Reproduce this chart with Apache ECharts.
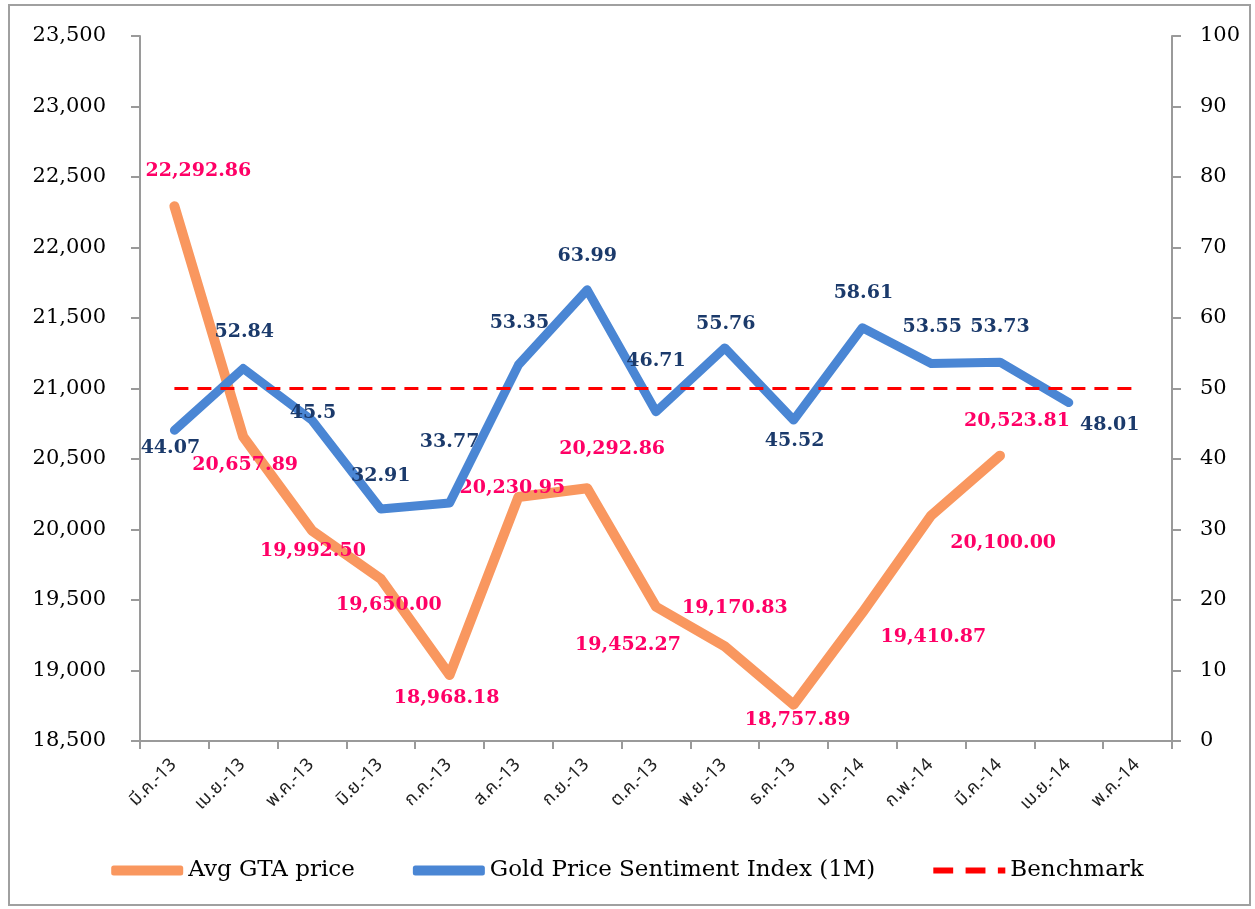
<!DOCTYPE html>
<html>
<head>
<meta charset="utf-8">
<script src="https://cdn.jsdelivr.net/npm/echarts@6/dist/echarts.min.js"></script>
<style>
  html, body { margin: 0; padding: 0; background: #fff; }
  #frame {
    position: absolute; left: 8px; top: 4px; width: 1243px; height: 902px;
    border: 2px solid #a0a0a0; box-sizing: border-box;
  }
  #chart { position: absolute; left: 0; top: 0; width: 1255px; height: 909px; }
</style>
</head>
<body>
<div id="frame"></div>
<div id="chart"></div>
<script>
  const months = ['มี.ค.-13', 'เม.ย.-13', 'พ.ค.-13', 'มิ.ย.-13', 'ก.ค.-13', 'ส.ค.-13', 'ก.ย.-13', 'ต.ค.-13',
    'พ.ย.-13', 'ธ.ค.-13', 'ม.ค.-14', 'ก.พ.-14', 'มี.ค.-14', 'เม.ย.-14', 'พ.ค.-14']
  const gtaPrice = [22292.86, 20657.89, 19992.50, 19650.00, 18968.18, 20230.95, 20292.86, 19452.27,
    19170.83, 18757.89, 19410.87, 20100.00, 20523.81, null, null]
  const sentiment = [44.07, 52.84, 45.5, 32.91, 33.77, 53.35, 63.99, 46.71, 55.76, 45.52, 58.61,
    53.55, 53.73, 48.01, null]
  const benchmark = [50, 50, 50, 50, 50, 50, 50, 50, 50, 50, 50, 50, 50, 50, 50]

  // label offsets (px) from each point, as placed in the original
  const gtaLabelOffset = [[24, -35], [2, 28], [1, 21], [8, 26], [-3, 23], [-6, -9], [25, -39], [-28, 38],
    [10, -38], [4, 15], [71, 24], [72, 28], [17, -35]]
  const sentLabelOffset = [[-4, 18], [1, -36], [1, -7], [0, -33], [0, -61], [1, -42], [0, -34], [0, -51],
    [1, -24], [1, 21], [1, -35], [1, -36], [0, -35], [41, 23]]

  const serif = 'DejaVu Serif'

  function fmtPrice(v) {
    return v.toLocaleString('en-US', {minimumFractionDigits: 2, maximumFractionDigits: 2})
  }

  function withLabels(values, offsets, color, formatter) {
    return values.map((v, i) => {
      if (v === null) return null
      return {
        value: v,
        label: {
          show: true,
          position: 'inside',
          offset: offsets[i],
          color: color,
          fontFamily: serif,
          fontWeight: 'bold',
          fontSize: 19,
          formatter: () => formatter(v)
        }
      }
    })
  }

  const axisGray = '#9a9a9a'

  const chart = echarts.init(document.getElementById('chart'))
  chart.setOption({
    animation: false,
    backgroundColor: 'transparent',
    grid: {left: 140, right: 83, top: 36, bottom: 168},
    legend: {
      bottom: 22,
      left: 'center',
      itemWidth: 72,
      itemHeight: 10,
      itemGap: 58,
      textStyle: {fontFamily: serif, fontSize: 23, color: '#000'},
      data: [
        {name: 'Avg GTA price', icon: 'roundRect'},
        {name: 'Gold Price Sentiment Index (1M)', icon: 'roundRect'},
        {name: 'Benchmark', icon: 'path://M0,0h16v5h-16z M26,0h16v5h-16z M52,0h6v5h-6z'}
      ]
    },
    xAxis: {
      type: 'category',
      data: months,
      boundaryGap: true,
      axisLine: {lineStyle: {color: axisGray, width: 2}},
      axisTick: {show: true, length: 8, lineStyle: {color: axisGray, width: 2}},
      axisLabel: {
        rotate: 45,
        interval: 0,
        margin: 22,
        fontSize: 18,
        color: '#222',
        fontFamily: 'Noto Sans Thai, DejaVu Sans, sans-serif'
      }
    },
    yAxis: [
      {
        type: 'value',
        min: 18500,
        max: 23500,
        interval: 500,
        axisLine: {show: true, lineStyle: {color: axisGray, width: 2}},
        axisTick: {show: true, length: 9, lineStyle: {color: axisGray, width: 2}},
        splitLine: {show: false},
        axisLabel: {
          fontFamily: serif, fontSize: 21, color: '#000', margin: 34,
          formatter: v => v.toLocaleString('en-US')
        }
      },
      {
        type: 'value',
        min: 0,
        max: 100,
        interval: 10,
        axisLine: {show: true, lineStyle: {color: axisGray, width: 2}},
        axisTick: {show: true, length: 9, lineStyle: {color: axisGray, width: 2}},
        splitLine: {show: false},
        axisLabel: {fontFamily: serif, fontSize: 21, color: '#000', margin: 28}
      }
    ],
    series: [
      {
        name: 'Avg GTA price',
        type: 'line',
        yAxisIndex: 0,
        z: 2,
        showSymbol: true,
        symbol: 'circle',
        symbolSize: 1,
        color: '#F9975F',
        lineStyle: {width: 10, color: '#F9975F', cap: 'round', join: 'round'},
        data: withLabels(gtaPrice, gtaLabelOffset, '#FF0066', fmtPrice)
      },
      {
        name: 'Gold Price Sentiment Index (1M)',
        type: 'line',
        yAxisIndex: 1,
        z: 3,
        showSymbol: true,
        symbol: 'circle',
        symbolSize: 1,
        color: '#4A86D4',
        lineStyle: {width: 9, color: '#4A86D4', cap: 'round', join: 'round'},
        data: withLabels(sentiment, sentLabelOffset, '#1B3A6B', v => String(v))
      },
      {
        name: 'Benchmark',
        type: 'line',
        yAxisIndex: 1,
        z: 4,
        symbol: 'none',
        color: '#FF0000',
        lineStyle: {width: 3, color: '#FF0000', type: [14, 9]},
        data: benchmark
      }
    ]
  })
</script>
</body>
</html>
